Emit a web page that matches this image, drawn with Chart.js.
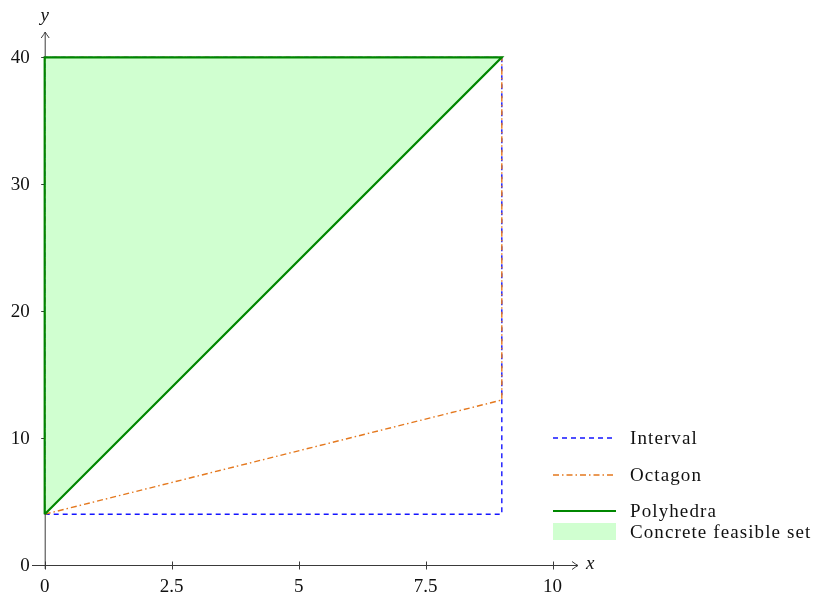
<!DOCTYPE html>
<html>
<head>
<meta charset="utf-8">
<script src="https://cdn.jsdelivr.net/npm/chart.js@4/dist/chart.umd.min.js"></script>
<style>
  html, body { margin: 0; padding: 0; background: #ffffff; }
  #wrap { width: 816px; height: 595px; }
</style>
</head>
<body>
<div id="wrap"><canvas id="c" width="816" height="595"></canvas></div>
<script>
// Abstract domains over the (x, y) plane
const intervalPts   = [{x: 0, y: 4}, {x: 9, y: 4}, {x: 9, y: 40}, {x: 0, y: 40}, {x: 0, y: 4}];
const octagonPts    = [{x: 0, y: 4}, {x: 9, y: 13}, {x: 9, y: 40}, {x: 0, y: 40}, {x: 0, y: 4}];
const polyhedraPts  = [{x: 0, y: 4}, {x: 9, y: 40}, {x: 0, y: 40}, {x: 0, y: 4}];
// Concrete set: region between the diagonal edge and the line y = 40
const concreteEdge  = [{x: 0, y: 4}, {x: 9, y: 40}];
const concreteTop   = 40;

const xTicks = [0, 2.5, 5, 7.5, 10];
const yTicks = [0, 10, 20, 30, 40];
const xRange = [-0.25, 10.5];
const yRange = [0, 42];

const SERIF = '"Liberation Serif", "DejaVu Serif", serif';
const AXIS_COLOR = '#3a3a3a';

const COL_INTERVAL = 'rgb(20,20,255)';
const COL_OCTAGON  = 'rgb(228,120,30)';
const COL_POLY     = 'rgb(0,135,0)';
const COL_FILL     = 'rgb(208,255,208)';

const axesPlugin = {
  id: 'texAxes',
  beforeDatasetsDraw(chart) {
    const {ctx, scales: {x, y}} = chart;
    const x0 = x.getPixelForValue(0), y0 = y.getPixelForValue(0);
    const xl = x.getPixelForValue(xRange[0]), xr = x.getPixelForValue(xRange[1]);
    const yt = y.getPixelForValue(yRange[1]);
    ctx.save();
    ctx.strokeStyle = AXIS_COLOR;
    ctx.fillStyle = '#111';
    ctx.lineWidth = 1;
    // axis lines
    ctx.beginPath();
    ctx.moveTo(xl, y0 + 0.5); ctx.lineTo(xr, y0 + 0.5);
    ctx.moveTo(x0 + 0.5, y0 + 4); ctx.lineTo(x0 + 0.5, yt);
    ctx.stroke();
    // arrow heads
    ctx.beginPath();
    ctx.moveTo(xr - 6, y0 + 0.5 - 4); ctx.quadraticCurveTo(xr - 2, y0 + 0.5 - 1, xr, y0 + 0.5);
    ctx.quadraticCurveTo(xr - 2, y0 + 0.5 + 1, xr - 6, y0 + 0.5 + 4);
    ctx.moveTo(x0 + 0.5 - 4, yt + 6); ctx.quadraticCurveTo(x0 + 0.5 - 1, yt + 2, x0 + 0.5, yt);
    ctx.quadraticCurveTo(x0 + 0.5 + 1, yt + 2, x0 + 0.5 + 4, yt + 6);
    ctx.stroke();
    // ticks
    ctx.beginPath();
    xTicks.forEach(v => {
      const px = Math.round(x.getPixelForValue(v)) + 0.5;
      ctx.moveTo(px, y0 - 3.5); ctx.lineTo(px, y0 + 4.5);
    });
    yTicks.forEach(v => {
      const py = Math.round(y.getPixelForValue(v)) + 0.5;
      ctx.moveTo(x0 - 3.5, py); ctx.lineTo(x0 + 4.5, py);
    });
    ctx.stroke();
    // tick labels
    ctx.font = '19px ' + SERIF;
    ctx.textAlign = 'center'; ctx.textBaseline = 'middle';
    xTicks.forEach(v => ctx.fillText(String(v), x.getPixelForValue(v), y0 + 22));
    ctx.textAlign = 'right';
    yTicks.forEach(v => ctx.fillText(String(v), x0 - 15, y.getPixelForValue(v) + 1));
    // axis names
    ctx.font = 'italic 19px ' + SERIF;
    ctx.textAlign = 'left';
    ctx.fillText('x', xr + 8, y0 - 1);
    ctx.textAlign = 'center';
    ctx.fillText('y', x0, yt - 16);
    ctx.restore();
  },
  afterDatasetsDraw(chart) {
    const {ctx} = chart;
    const items = [
      {label: 'Interval', y: 438, color: COL_INTERVAL, dash: [5, 4], w: 1.4},
      {label: 'Octagon', y: 475, color: COL_OCTAGON, dash: [6, 3, 1.5, 3], w: 1.4},
      {label: 'Polyhedra', y: 511, color: COL_POLY, dash: [], w: 2.2}
    ];
    ctx.save();
    ctx.font = '19px ' + SERIF;
    ctx.letterSpacing = '1.1px';
    ctx.textAlign = 'left'; ctx.textBaseline = 'middle';
    items.forEach(it => {
      ctx.strokeStyle = it.color; ctx.lineWidth = it.w; ctx.setLineDash(it.dash);
      ctx.beginPath(); ctx.moveTo(553, it.y); ctx.lineTo(616, it.y); ctx.stroke();
      ctx.fillStyle = '#111';
      ctx.fillText(it.label, 630, it.y + 1);
    });
    ctx.setLineDash([]);
    ctx.fillStyle = COL_FILL;
    ctx.fillRect(553, 523, 63, 17);
    ctx.fillStyle = '#111';
    ctx.fillText('Concrete feasible set', 630, 533);
    ctx.restore();
  }
};

new Chart(document.getElementById('c'), {
  type: 'line',
  data: {
    datasets: [
      {
        label: 'Concrete feasible set',
        data: concreteEdge,
        borderWidth: 0,
        borderColor: 'rgba(0,0,0,0)',
        backgroundColor: COL_FILL,
        fill: {value: concreteTop},
        pointRadius: 0,
        order: 4
      },
      {
        label: 'Interval',
        data: intervalPts,
        borderColor: COL_INTERVAL,
        borderWidth: 1.4,
        borderDash: [5, 4],
        fill: false,
        pointRadius: 0,
        order: 3
      },
      {
        label: 'Octagon',
        data: octagonPts,
        borderColor: COL_OCTAGON,
        borderWidth: 1.4,
        borderDash: [6, 3, 1.5, 3],
        fill: false,
        pointRadius: 0,
        order: 2
      },
      {
        label: 'Polyhedra',
        data: polyhedraPts,
        borderColor: COL_POLY,
        borderWidth: 2.2,
        fill: false,
        pointRadius: 0,
        order: 1
      }
    ]
  },
  options: {
    responsive: false,
    animation: false,
    parsing: true,
    layout: {padding: {left: 32, right: 238, top: 32, bottom: 30}},
    scales: {
      x: {type: 'linear', min: xRange[0], max: xRange[1], display: false},
      y: {type: 'linear', min: yRange[0], max: yRange[1], display: false}
    },
    plugins: {
      legend: {display: false},
      tooltip: {enabled: false}
    }
  },
  plugins: [axesPlugin]
});
</script>
</body>
</html>
